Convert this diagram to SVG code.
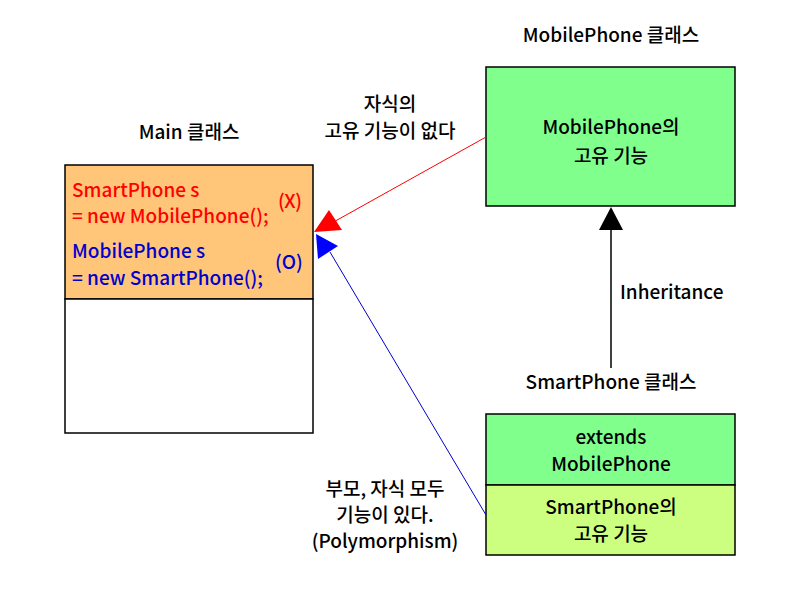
<svg xmlns="http://www.w3.org/2000/svg" width="800" height="600" viewBox="0 0 800 600">
<style>
text{font-family:"Noto Sans CJK KR","Noto Sans",sans-serif;font-size:19px;font-weight:500;fill:#000}
.c{text-anchor:middle}
.box{stroke:#000;stroke-width:1.5}
.red{fill:#ff0000}
.blue{fill:#0000cc}
</style>
<rect width="800" height="600" fill="#fff"/>
<g id="main">
<rect class="box" x="65" y="165" width="248" height="134" fill="#ffc67a"/>
<rect class="box" x="65" y="299" width="248" height="134" fill="#fff"/>
<text class="c" x="189" y="139">Main 클래스</text>
<text class="red" x="72" y="197">SmartPhone s</text>
<text class="red" x="72" y="223">= new MobilePhone();</text>
<text class="red" x="278" y="208" textLength="24">(X)</text>
<text class="blue" x="72" y="258">MobilePhone s</text>
<text class="blue" x="72" y="285">= new SmartPhone();</text>
<text class="blue" x="275" y="269">(O)</text>
</g>
<g id="mobilephone">
<text class="c" x="611" y="42">MobilePhone 클래스</text>
<rect class="box" x="486" y="67" width="249" height="139" fill="#80ff8d"/>
<text class="c" x="611" y="134">MobilePhone의</text>
<text class="c" x="611" y="163">고유 기능</text>
</g>
<g id="smartphone">
<text class="c" x="611" y="389">SmartPhone 클래스</text>
<rect class="box" x="486" y="414" width="249" height="71" fill="#80ff8d"/>
<rect class="box" x="486" y="485" width="249" height="70" fill="#ccff80"/>
<text class="c" x="611" y="444">extends</text>
<text class="c" x="611" y="471">MobilePhone</text>
<text class="c" x="611" y="514">SmartPhone의</text>
<text class="c" x="611" y="541">고유 기능</text>
</g>
<g id="connectors">
<line x1="486" y1="137" x2="330" y2="224" stroke="#ff0000" stroke-width="1"/>
<polygon points="314,232 329,210 342,230" fill="#ff0000"/>
<line x1="486" y1="515" x2="330" y2="252" stroke="#0000cc" stroke-width="1"/>
<polygon points="316,234 338,246 318,259" fill="#0000ff"/>
<line x1="611" y1="368" x2="611" y2="225" stroke="#000" stroke-width="1.5"/>
<polygon points="611,207 623,230 599,230" fill="#000"/>
<text class="c" x="390" y="111">자식의</text>
<text class="c" x="390" y="138">고유 기능이 없다</text>
<text x="620" y="299">Inheritance</text>
<text class="c" x="385" y="496">부모, 자식 모두</text>
<text class="c" x="385" y="522">기능이 있다.</text>
<text class="c" x="385" y="548">(Polymorphism)</text>
</g>
</svg>
